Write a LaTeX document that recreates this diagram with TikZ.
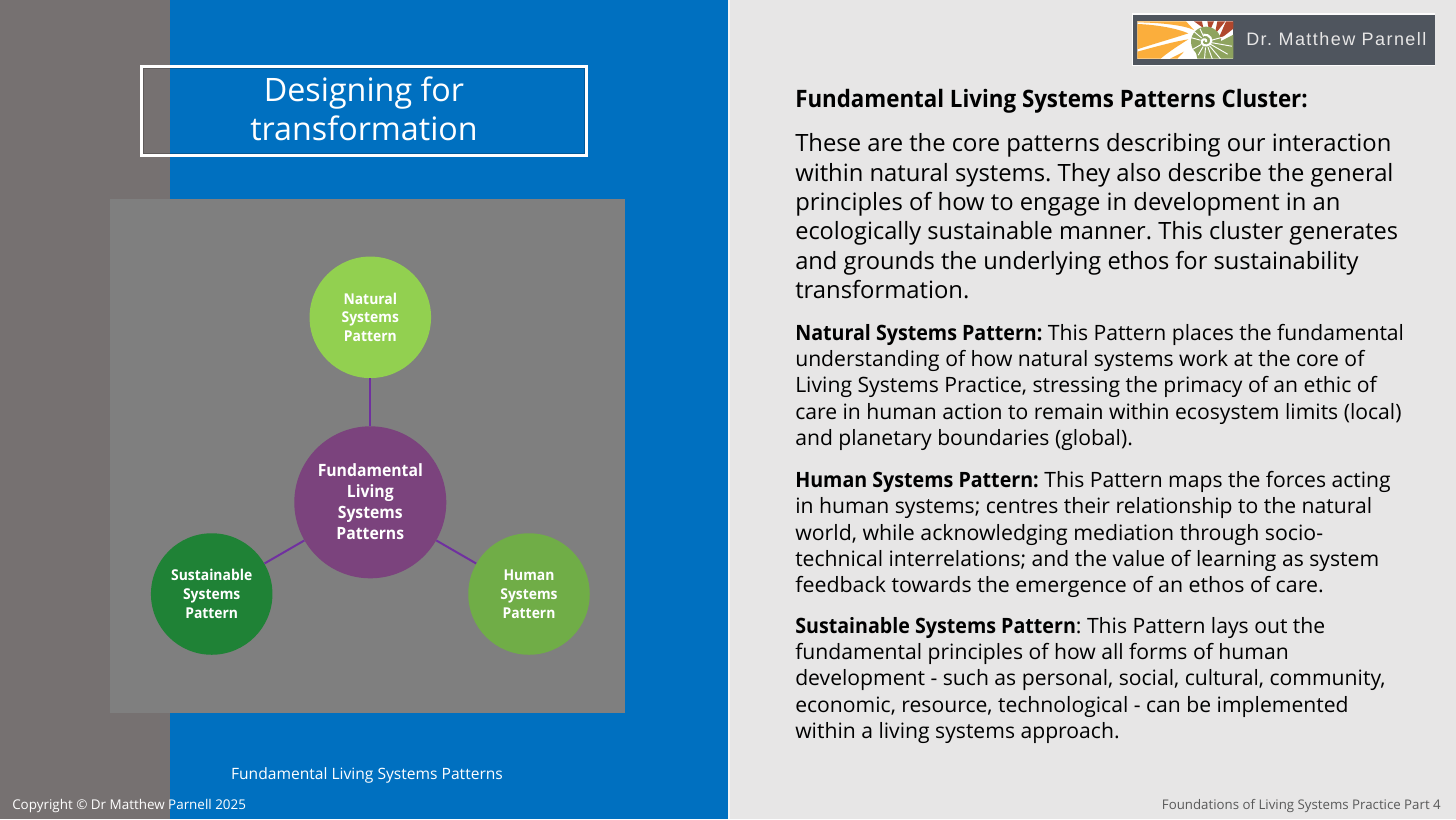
\documentclass[tikz,border=0pt]{standalone}
\usepackage{graphicx}
\usepackage{fontspec}
\setmainfont{Open Sans}[BoldFeatures={FakeStretch=0.93}]
\newfontfamily\logofont[LetterSpace=8]{Liberation Sans}
\frenchspacing
\newcommand{\xs}[2]{\scalebox{#1}[1]{#2}}
\definecolor{bgright}{HTML}{E7E6E6}
\definecolor{bgleft}{HTML}{767171}
\definecolor{bgblue}{HTML}{0070C0}
\definecolor{panel}{HTML}{7F7F7F}
\definecolor{purple1}{HTML}{7B437D}
\definecolor{line1}{HTML}{7030A0}
\definecolor{cnat}{HTML}{92D050}
\definecolor{chum}{HTML}{70AD47}
\definecolor{csus}{HTML}{1F8236}
\definecolor{logobg}{HTML}{4F555E}
\definecolor{lorange}{HTML}{FBAE3C}
\definecolor{lred}{HTML}{B0472D}
\definecolor{lgreen}{HTML}{8EA35E}
\tikzset{
  x=0.75pt,y=-0.75pt,
  circ/.style={circle,inner sep=0pt,minimum size=#1*0.75pt,text=white,align=center},
  sub/.style={font=\fontsize{11.2}{14.1}\selectfont\bfseries},
  hub/.style={font=\fontsize{12.7}{15.8}\selectfont\bfseries},
  conn/.style={line1,line width=1.5pt},
  big/.style={anchor=base west,inner sep=0pt,font=\fontsize{17.85}{20}\selectfont},
  med/.style={anchor=base west,inner sep=0pt,font=\fontsize{15.85}{18}\selectfont},
}
\begin{document}
\begin{tikzpicture}
\useasboundingbox (0,0) rectangle (1456,819);
\fill[bgright] (0,0) rectangle (1456,819);
\fill[bgleft] (0,0) rectangle (170,819);
\fill[bgblue] (170,0) rectangle (728,819);
\fill[white!60!bgright] (728,0) rectangle (730,819);
\fill[panel] (110,199) rectangle (625,713);
\draw[black,opacity=.2,line width=.5pt] (143.5,68.3) rectangle (584.5,153.5);
\node[draw=white,line width=1.9pt,minimum width=445*0.75pt,minimum height=89*0.75pt,inner sep=0pt] (title) at (364,111) {};
\node[text=white,align=center,inner sep=0pt,font=\fontsize{24.2}{29}\selectfont] (titletext) at (364,109) {Designing for\\transformation};
% diagram
\node[circ=152,fill=purple1,hub] (hub) at (370.3,502.3) {\raisebox{1pt}{Fundamental}\\\raisebox{1pt}{Living}\\\raisebox{1pt}{Systems}\\\raisebox{1pt}{Patterns}};
\node[circ=121.5,fill=cnat,sub] (nat) at (370.3,317.3) {Natural\\Systems\\Pattern};
\node[circ=121.5,fill=chum,sub] (hum) at (529,594) {Human\\Systems\\Pattern};
\node[circ=121.5,fill=csus,sub] (sus) at (211.7,594) {Sustainable\\Systems\\Pattern};
\draw[conn] (hub) -- (nat);
\draw[conn] (hub) -- (hum);
\draw[conn] (hub) -- (sus);
\node[anchor=base,inner sep=0pt,text=white,font=\fontsize{11.7}{13}\selectfont] (cap) at (367,779) {Fundamental Living Systems Patterns};
\node[anchor=base west,inner sep=0pt,text=white,font=\fontsize{10.07}{12}\selectfont] (copy) at (12,809) {Copyright © Dr Matthew Parnell 2025};
\node[anchor=base east,inner sep=0pt,font=\fontsize{9.95}{12}\selectfont,text=black!65] (ft) at (1441,809) {Foundations of Living Systems Practice Part 4};
% logo
\fill[white!90!bgright] (1132,13) rectangle (1435,66);
\fill[logobg] (1133,14.5) rectangle (1435,65);
\begin{scope}[shift={(1120,0)},x=0.25pt,y=-0.25pt]
\clip (52,64) rectangle (340,176);
\fill[white] (52,64) rectangle (340,176);
\fill[lorange] (52,64) -- (198,64) -- (222,90) .. controls (190,75) and (120,68) .. (52,67) -- cycle;
\fill[lorange] (52,72) .. controls (110,74) and (170,85) .. (205,100) .. controls (150,118) and (90,135) .. (52,148) -- cycle;
\fill[lorange] (52,155) .. controls (100,142) and (160,125) .. (205,118) .. controls (170,140) and (140,160) .. (122,176) -- (52,176) -- cycle;
\fill[lorange] (150,176) -- (192,155) -- (172,176) -- cycle;
\fill[lred] (222,64) -- (246,64) -- (250,84) -- cycle;
\fill[lred] (262,64) -- (282,64) -- (268,96) -- cycle;
\fill[lred] (292,64) -- (316,64) -- (284,104) -- cycle;
\fill[lred] (318,64) -- (340,64) -- (340,86) -- (292,124) -- cycle;
\fill[lgreen] (340,104) -- (340,176) -- (232,176) -- (226,150) -- (290,130) -- cycle;
\fill[lgreen] (258,125) circle (45);
\foreach \a/\l in {-165/28,-140/28,-115/26,-15/52,10/62,30/58,50/52,70/40,95/34,120/30,150/28}{
  \draw[white,line width=.7pt] (258,125) ++(\a:17) -- ++(\a:\l);}
\draw[white,line width=1.6pt] (258,126) .. controls (262,118) and (250,114) .. (246,122) .. controls (240,134) and (258,142) .. (270,132) .. controls (280,120) and (270,102) .. (250,104);
\end{scope}
\node[anchor=base west,inner sep=0pt,text=bgright,font=\logofont\fontsize{13.5}{15}\selectfont] (lg) at (1246,45.5) {Dr. Matthew Parnell};
% right text
\node[big,font=\fontsize{18}{20}\selectfont\bfseries] at (795,107) {Fundamental Living Systems Patterns Cluster:};
\node[big] at (795,151) {These are the core patterns describing our interaction};
\node[big] at (795,181) {within natural systems. They also describe the general};
\node[big] at (795,210) {principles of how to engage in development in an};
\node[big] at (795,239) {\xs{0.9906}{ecologically sustainable manner. This cluster generates}};
\node[big] at (795,269) {\xs{0.9947}{and grounds the underlying ethos for sustainability}};
\node[big] at (795,298) {transformation.};
\node[med] at (795,340) {\textbf{Natural Systems Pattern:} This Pattern places the fundamental};
\node[med] at (795,366) {understanding of how natural systems work at the core of};
\node[med] at (795,392) {Living Systems Practice, stressing the primacy of an ethic of};
\node[med] at (795,419) {care in human action to remain within ecosystem limits (local)};
\node[med] at (795,445) {and planetary boundaries (global).};
\node[med] at (795,487) {\textbf{Human Systems Pattern:} This Pattern maps the forces acting};
\node[med] at (795,513) {in human systems; centres their relationship to the natural};
\node[med] at (795,540) {\xs{1.0076}{world, while acknowledging mediation through socio-}};
\node[med] at (795,566) {technical interrelations; and the value of learning as system};
\node[med] at (795,592) {\xs{1.0116}{feedback towards the emergence of an ethos of care.}};
\node[med] at (795,633) {\textbf{Sustainable Systems Pattern}: This Pattern lays out the};
\node[med] at (795,659) {fundamental principles of how all forms of human};
\node[med] at (795,685) {development - such as personal, social, cultural, community,};
\node[med] at (795,712) {economic, resource, technological - can be implemented};
\node[med] at (795,738) {within a living systems approach.};
\end{tikzpicture}
\end{document}
